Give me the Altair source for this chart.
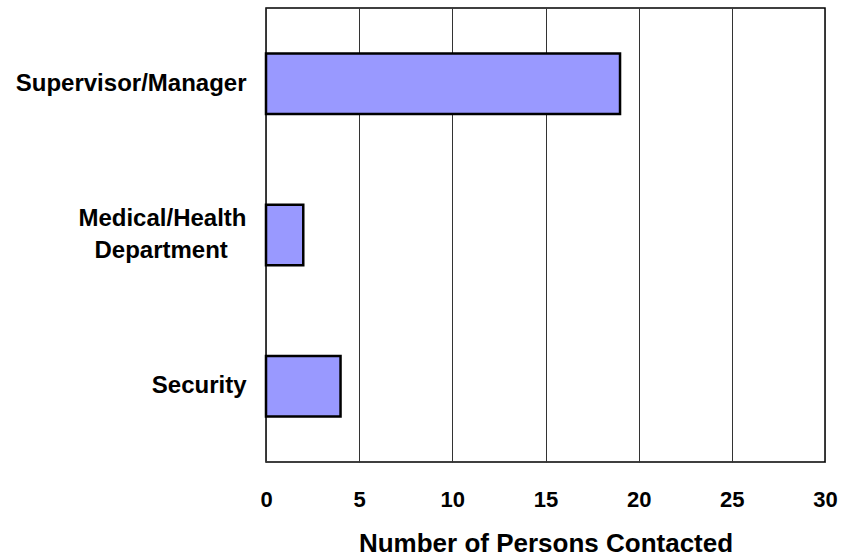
import altair as alt
import pandas as pd

categories = ["Supervisor/Manager", "Medical/Health|Department\u2002\u00a0\u200b", "Security"]
values = [19, 2, 4]
x_ticks = [0, 5, 10, 15, 20, 25, 30]

df = pd.DataFrame({"cat": categories, "val": values})

FONT = "Liberation Sans"

chart = alt.Chart(df).mark_bar(
    fill="#9999FF", stroke="#000000", strokeWidth=2.5
).encode(
    x=alt.X("val:Q", scale=alt.Scale(domain=[0, 30], nice=False),
            axis=alt.Axis(values=x_ticks, title="Number of Persons Contacted",
                          grid=True, gridColor="#333333", gridWidth=1,
                          ticks=False, domain=False, labelPadding=27,
                          labelFlush=False, labelOverlap=False,
                          labelFont=FONT, labelFontSize=22, labelFontWeight="bold",
                          labelColor="#000000", titleFont=FONT, titleFontSize=26,
                          titleFontWeight="bold", titleColor="#000000",
                          titlePadding=20)),
    y=alt.Y("cat:N", sort=None,
            scale=alt.Scale(paddingInner=0.6, paddingOuter=0.3),
            axis=alt.Axis(title=None, ticks=False, domain=False, grid=False,
                          labelExpr="split(datum.label, '|')",
                          labelOffset={"condition": {"test": "indexof(datum.value, '|') >= 0", "value": -16}, "value": 0},
                          labelPadding=20, labelFont=FONT, labelFontSize=24,
                          labelFontWeight="bold", labelColor="#000000",
                          labelLineHeight=32, labelLimit=400))
).properties(
    width=559, height=454,
    autosize=alt.AutoSizeParams(type="none"),
    padding={"left": 266, "top": 8, "right": 21, "bottom": 95},
    background="white"
).configure_view(stroke="#000000", strokeWidth=1.5)

chart.save("out.html", embed_options={"renderer": "svg", "actions": False})
